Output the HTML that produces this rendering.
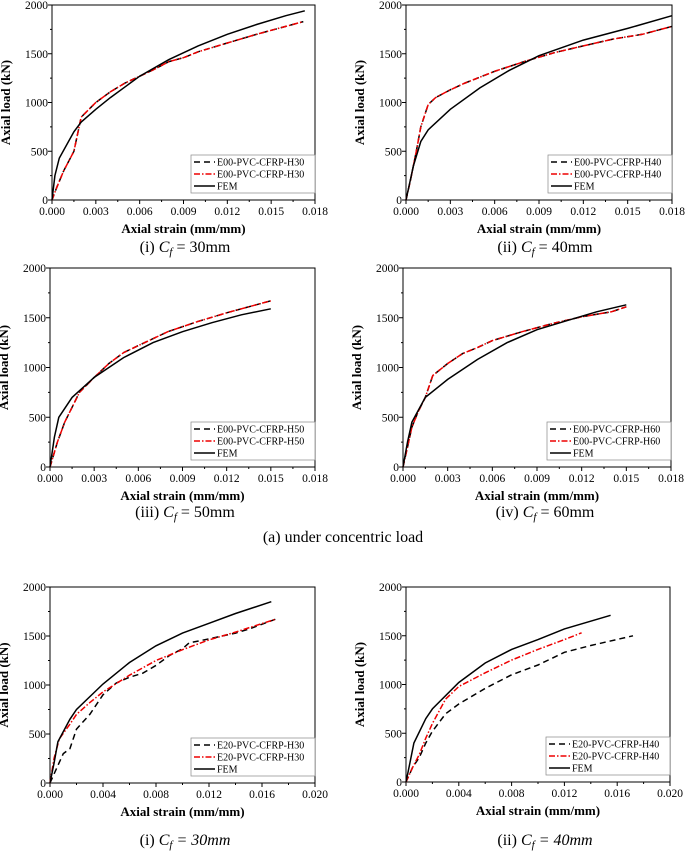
<!DOCTYPE html>
<html><head><meta charset="utf-8"><style>
body{margin:0;background:#fff;}
svg text{font-family:"Liberation Serif",serif;}
</style></head><body>
<svg id="chart" width="685" height="855" xmlns="http://www.w3.org/2000/svg"></svg>
<script>
const p1Exp=[[0,0],[0.0003,120],[0.0008,300],[0.0015,500],[0.002,850],[0.003,1000],[0.004,1110],[0.005,1200],[0.006,1270],[0.007,1340],[0.008,1420],[0.009,1460],[0.01,1520],[0.012,1610],[0.014,1700],[0.015,1740],[0.016,1780],[0.0172,1830]];
const p1Fem=[[0,0],[0.0002,250],[0.0005,430],[0.0015,700],[0.002,800],[0.003,930],[0.004,1050],[0.006,1270],[0.008,1440],[0.01,1580],[0.012,1700],[0.014,1800],[0.016,1890],[0.0173,1940]];
const p2Exp=[[0,0],[0.0003,200],[0.0007,500],[0.001,750],[0.0015,980],[0.002,1050],[0.003,1130],[0.004,1200],[0.006,1320],[0.008,1420],[0.01,1510],[0.012,1580],[0.014,1650],[0.016,1700],[0.018,1780]];
const p2Fem=[[0,0],[0.0005,350],[0.001,600],[0.0015,720],[0.003,930],[0.005,1150],[0.007,1330],[0.009,1480],[0.012,1640],[0.015,1760],[0.018,1890]];
const p3Exp=[[0,0],[0.0005,250],[0.001,450],[0.0015,600],[0.002,750],[0.003,900],[0.004,1040],[0.005,1150],[0.006,1220],[0.008,1360],[0.01,1460],[0.012,1550],[0.014,1630],[0.015,1670]];
const p3Fem=[[0,0],[0.0003,300],[0.0006,500],[0.0015,700],[0.003,900],[0.005,1100],[0.007,1250],[0.009,1360],[0.011,1450],[0.013,1530],[0.015,1590]];
const p4Exp=[[0,0],[0.0003,200],[0.0006,400],[0.001,550],[0.0015,700],[0.002,920],[0.003,1040],[0.004,1140],[0.005,1200],[0.006,1270],[0.008,1360],[0.01,1440],[0.012,1510],[0.014,1560],[0.015,1610]];
const p4Fem=[[0,0],[0.0003,250],[0.0006,450],[0.0015,700],[0.003,880],[0.005,1080],[0.007,1250],[0.009,1380],[0.011,1470],[0.013,1560],[0.015,1630]];
const p5Black=[[0,0],[0.0005,150],[0.001,300],[0.0015,350],[0.002,550],[0.003,700],[0.004,900],[0.005,1020],[0.006,1080],[0.007,1120],[0.008,1200],[0.009,1300],[0.01,1370],[0.0105,1430],[0.012,1470],[0.014,1530],[0.015,1570],[0.017,1670]];
const p5Red=[[0,0],[0.0003,250],[0.0007,450],[0.0015,600],[0.002,700],[0.003,820],[0.004,930],[0.006,1100],[0.008,1250],[0.01,1360],[0.012,1460],[0.014,1540],[0.017,1670]];
const p5Fem=[[0,0],[0.0003,200],[0.0006,420],[0.0015,650],[0.002,750],[0.004,1010],[0.006,1230],[0.008,1400],[0.01,1530],[0.012,1630],[0.014,1730],[0.0167,1850]];
const p6Black=[[0,0],[0.0005,150],[0.001,250],[0.0015,400],[0.002,520],[0.003,700],[0.004,800],[0.006,960],[0.008,1100],[0.01,1200],[0.012,1330],[0.014,1400],[0.0172,1500]];
const p6Red=[[0,0],[0.0005,150],[0.001,280],[0.0015,450],[0.002,600],[0.003,850],[0.004,980],[0.006,1120],[0.008,1250],[0.01,1360],[0.012,1460],[0.0133,1530]];
const p6Fem=[[0,0],[0.0003,200],[0.0006,400],[0.0015,650],[0.002,750],[0.004,1020],[0.006,1220],[0.008,1360],[0.01,1460],[0.012,1570],[0.0155,1710]];
const xTicks18=["0.000","0.003","0.006","0.009","0.012","0.015","0.018"];
const xTicks20=["0.000","0.004","0.008","0.012","0.016","0.020"];
const yTicks=["0","500","1000","1500","2000"];
const labels=["E00-PVC-CFRP-H30","E00-PVC-CFRP-H40","E00-PVC-CFRP-H50","E00-PVC-CFRP-H60","E20-PVC-CFRP-H30","E20-PVC-CFRP-H40"];

const NS="http://www.w3.org/2000/svg";
const svg=document.getElementById('chart');
function el(tag,attrs,parent,txt){const e=document.createElementNS(NS,tag);for(const k in attrs)e.setAttribute(k,attrs[k]);if(txt!==undefined)e.textContent=txt;(parent||svg).appendChild(e);return e;}

const panels=[
 {L:52,R:315,T:5,B:200,ticks:xTicks18,black:p1Exp,red:p1Exp,fem:p1Fem,lab:labels[0]},
 {L:406,R:672,T:5,B:200,ticks:xTicks18,black:p2Exp,red:p2Exp,fem:p2Fem,lab:labels[1]},
 {L:50,R:315,T:268,B:467,ticks:xTicks18,black:p3Exp,red:p3Exp,fem:p3Fem,lab:labels[2]},
 {L:403,R:671,T:268,B:467,ticks:xTicks18,black:p4Exp,red:p4Exp,fem:p4Fem,lab:labels[3]},
 {L:50,R:315,T:587,B:783,ticks:xTicks20,black:p5Black,red:p5Red,fem:p5Fem,lab:labels[4]},
 {L:406,R:670,T:587,B:782,ticks:xTicks20,black:p6Black,red:p6Red,fem:p6Fem,lab:labels[5]}
];

panels.forEach((p,i)=>{
 const g=el('g',{});
 
 
 const xmax=parseFloat(p.ticks[p.ticks.length-1]);
 const sx=v=>p.L+v/xmax*(p.R-p.L);
 const sy=v=>p.B-v/2000*(p.B-p.T);
 const frame=el('rect',{x:p.L,y:p.T,width:p.R-p.L,height:p.B-p.T,fill:'none',stroke:'#000','stroke-width':1},g);
 
 
 p.ticks.forEach((t,k)=>{
  const x=sx(parseFloat(t));
  el('line',{x1:x,x2:x,y1:p.B,y2:p.B+4,stroke:'#000'},g);
  if(k<p.ticks.length-1){const xm=sx((parseFloat(t)+parseFloat(p.ticks[k+1]))/2);el('line',{x1:xm,x2:xm,y1:p.B,y2:p.B+2,stroke:'#000'},g);}
  const tl=el('text',{x:x,y:p.B+15,'font-size':11.5,'text-anchor':'middle'},g,t);
  
  
 });
 yTicks.forEach((t,k)=>{
  const y=sy(+t);
  el('line',{x1:p.L-4,x2:p.L,y1:y,y2:y,stroke:'#000'},g);
  if(k<yTicks.length-1){const ym=sy(+t+250);el('line',{x1:p.L-2,x2:p.L,y1:ym,y2:ym,stroke:'#000'},g);}
  const tl=el('text',{x:p.L-4,y:y+4,'font-size':11.5,'text-anchor':'end'},g,t);
  
  
 });
 const xt=el('text',{x:(p.L+p.R)/2,y:p.B+33,'font-size':13,'font-weight':'bold','text-anchor':'middle'},g,'Axial strain (mm/mm)');
 
 
 const ytx=p.L-42, yty=(p.T+p.B)/2;
 const yt=el('text',{x:ytx,y:yty,'font-size':13,'font-weight':'bold','text-anchor':'middle',transform:`rotate(-90 ${ytx} ${yty})`},g,'Axial load (kN)');
 
 
 const path=d=>d.map((q,j)=>(j?'L':'M')+sx(q[0]).toFixed(1)+','+sy(q[1]).toFixed(1)).join(' ');
 const lb=el('path',{d:path(p.black),fill:'none',stroke:'#000','stroke-width':1.5,'stroke-dasharray':'6,4'},g);
 
 
 const lr=el('path',{d:path(p.red),fill:'none',stroke:'#e00','stroke-width':1.5,'stroke-dasharray':'6,2,1.5,2'},g);
 
 
 const lf=el('path',{d:path(p.fem),fill:'none',stroke:'#000','stroke-width':1.5},g);
 
 
 const lg=el('g',{},g);
 
 
 const lx=p.R-124, ly=p.B-45;
 el('rect',{x:lx,y:ly,width:124,height:38,fill:'#fff',stroke:'#888','stroke-width':0.7},lg);
 const ents=[[p.lab,'#000','6,4'],[p.lab,'#e00','6,2,1.5,2'],['FEM','#000','none']];
 ents.forEach((e,k)=>{
  const yy=ly+7+k*12;
  el('line',{x1:lx+3,x2:lx+24,y1:yy,y2:yy,stroke:e[1],'stroke-width':1.5,'stroke-dasharray':e[2]},lg);
  const t=el('text',{x:lx+26,y:yy+3.5,'font-size':10},lg,e[0]);
  
  
 });
});
const caps=[[185,252,'(i) ','30mm'],[545,252,'(ii) ','40mm'],[185,517,'(iii) ','50mm'],[545,517,'(iv) ','60mm'],[185,845,'(i) ','30mm'],[545,845,'(ii) ','40mm']];
caps.forEach((c,i)=>{
 const t=el('text',{x:c[0],y:c[1],'font-size':16,'text-anchor':'middle'});
 
 
 t.appendChild(document.createTextNode(c[2]));
 el('tspan',{'font-style':'italic'},t,'C');
 el('tspan',{'font-style':'italic','font-size':11,dy:3},t,'f');
 const tail=el('tspan',{dy:-3},t,' = '+c[3]);
 if(i>=4)tail.setAttribute('font-style','italic');
});
const sub=el('text',{x:343,y:542,'font-size':16,'text-anchor':'middle'},svg,'(a) under concentric load');


</script>
</body></html>
